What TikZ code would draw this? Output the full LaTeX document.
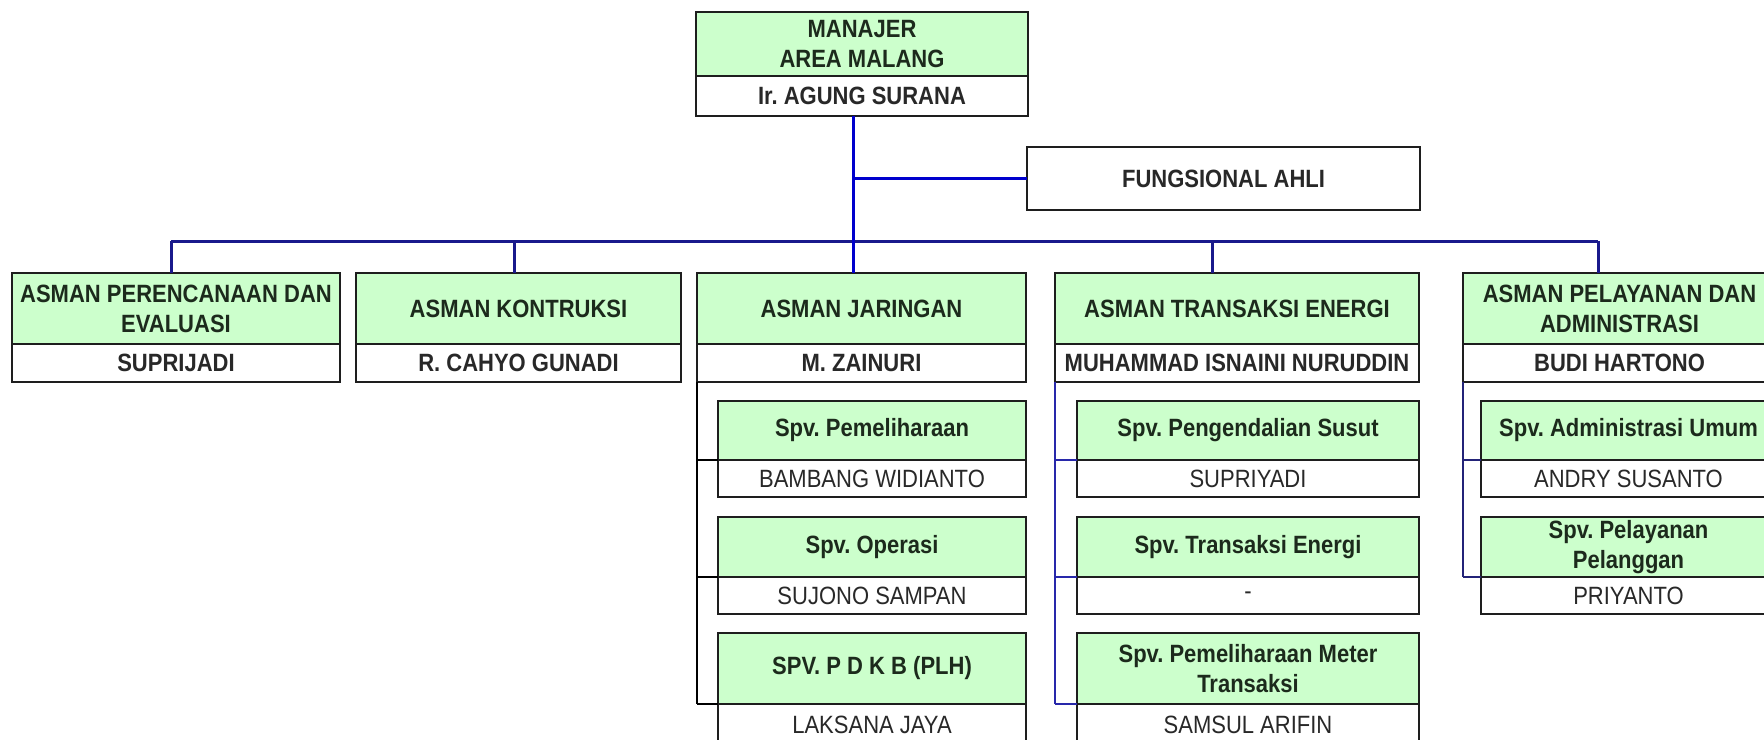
\documentclass[tikz,border=0pt]{standalone}
\usepackage{fontspec}
\setmainfont[FakeStretch=0.88]{Liberation Sans}
\frenchspacing
\definecolor{tgreen}{RGB}{204,255,204}
\definecolor{boxline}{RGB}{30,30,30}
\definecolor{tcol}{RGB}{28,42,28}
\definecolor{ncol}{RGB}{40,40,40}
\definecolor{spinecol}{RGB}{0,0,205}
\definecolor{buscol}{RGB}{25,25,140}
\definecolor{sub4col}{RGB}{40,40,170}
\definecolor{sub5col}{RGB}{35,35,120}
\newcommand{\bx}[7]{\node[#2, minimum width={(#5-#3)*0.5pt}, minimum height={(#6-#4)*0.5pt}] (#1) at ({(#3+#5)/2},{(#4+#6)/2}) {#7};}
\begin{document}
\begin{tikzpicture}[x=0.5pt,y=-0.5pt,
  node font=\fontsize{12.5}{15}\selectfont\frenchspacing,
  title/.style={draw=boxline, line width=1pt, fill=tgreen, inner sep=0pt, outer sep=0pt, align=center, font=\bfseries, text=tcol},
  bname/.style={draw=boxline, line width=1pt, fill=white, inner sep=0pt, outer sep=0pt, align=center, font=\bfseries, text=ncol},
  sname/.style={draw=boxline, line width=1pt, fill=white, inner sep=0pt, outer sep=0pt, align=center, text=ncol},
  spine/.style={draw=spinecol, line width=1.5pt},
  bus/.style={draw=buscol, line width=1.5pt},
  sub3/.style={draw=black, line width=0.75pt},
  sub4/.style={draw=sub4col, line width=0.75pt},
  sub5/.style={draw=sub5col, line width=0.75pt}]
\useasboundingbox (0,0) rectangle (1764,739);
\clip (0,0) rectangle (1764,739);
\fill[white] (0,0) rectangle (1764,739);
% manager
\bx{mgrt}{title}{696}{12}{1028}{76}{MANAJER\\AREA MALANG}
\bx{mgrn}{bname}{696}{76}{1028}{116}{Ir. AGUNG SURANA}
\bx{fung}{bname}{1027}{147}{1420}{210}{FUNGSIONAL AHLI}
% asman row
\bx{a1t}{title}{12}{273}{340}{344}{ASMAN PERENCANAAN DAN\\EVALUASI}
\bx{a1n}{bname}{12}{344}{340}{382}{SUPRIJADI}
\bx{a2t}{title}{356}{273}{681}{344}{ASMAN KONTRUKSI}
\bx{a2n}{bname}{356}{344}{681}{382}{R. CAHYO GUNADI}
\bx{a3t}{title}{697}{273}{1026}{344}{ASMAN JARINGAN}
\bx{a3n}{bname}{697}{344}{1026}{382}{M. ZAINURI}
\bx{a4t}{title}{1055}{273}{1419}{344}{ASMAN TRANSAKSI ENERGI}
\bx{a4n}{bname}{1055}{344}{1419}{382}{MUHAMMAD ISNAINI NURUDDIN}
\bx{a5t}{title}{1463}{273}{1776}{344}{ASMAN PELAYANAN DAN\\ADMINISTRASI}
\bx{a5n}{bname}{1463}{344}{1776}{382}{BUDI HARTONO}
% column 3 subs
\bx{s31t}{title}{718}{401}{1026}{460}{Spv. Pemeliharaan}
\bx{s31n}{sname}{718}{460}{1026}{497}{BAMBANG WIDIANTO}
\bx{s32t}{title}{718}{517}{1026}{577}{Spv. Operasi}
\bx{s32n}{sname}{718}{577}{1026}{614}{SUJONO SAMPAN}
\bx{s33t}{title}{718}{633}{1026}{704}{SPV. P D K B (PLH)}
\bx{s33n}{sname}{718}{704}{1026}{745}{LAKSANA JAYA}
% column 4 subs
\bx{s41t}{title}{1077}{401}{1419}{460}{Spv. Pengendalian Susut}
\bx{s41n}{sname}{1077}{460}{1419}{497}{SUPRIYADI}
\bx{s42t}{title}{1077}{517}{1419}{577}{Spv. Transaksi Energi}
\bx{s42n}{sname}{1077}{577}{1419}{614}{-}
\bx{s43t}{title}{1077}{633}{1419}{704}{Spv. Pemeliharaan Meter\\Transaksi}
\bx{s43n}{sname}{1077}{704}{1419}{745}{SAMSUL ARIFIN}
% column 5 subs
\bx{s51t}{title}{1481}{401}{1776}{460}{Spv. Administrasi Umum}
\bx{s51n}{sname}{1481}{460}{1776}{497}{ANDRY SUSANTO}
\bx{s52t}{title}{1481}{517}{1776}{577}{Spv. Pelayanan\\Pelanggan}
\bx{s52n}{sname}{1481}{577}{1776}{614}{PRIYANTO}
% top connectors
\coordinate (spine) at (853,241);
\coordinate (d1) at (171,241);
\coordinate (d2) at (514,241);
\coordinate (d4) at (1212,241);
\coordinate (d5) at (1598,241);
\draw[bus] (d1) -- (d5);
\draw[bus] (d1) -- (d1 |- a1t.north);
\draw[bus] (d2) -- (d2 |- a2t.north);
\draw[bus] (d4) -- (d4 |- a4t.north);
\draw[bus] (d5) -- (d5 |- a5t.north);
\draw[spine] (mgrn.south -| spine) -- (spine |- a3t.north);
\draw[spine] (fung.west -| spine) -- (fung.west);
% sub connectors
\draw[sub3] (a3n.south west) -- (a3n.south west |- s33t.south);
\foreach \s in {s31t,s32t,s33t} \draw[sub3] (a3n.south west |- \s.south) -- (\s.south west);
\draw[sub4] (a4n.south west) -- (a4n.south west |- s43t.south);
\foreach \s in {s41t,s42t,s43t} \draw[sub4] (a4n.south west |- \s.south) -- (\s.south west);
\draw[sub5] (a5n.south west) -- (a5n.south west |- s52t.south);
\foreach \s in {s51t,s52t} \draw[sub5] (a5n.south west |- \s.south) -- (\s.south west);
\end{tikzpicture}
\end{document}
